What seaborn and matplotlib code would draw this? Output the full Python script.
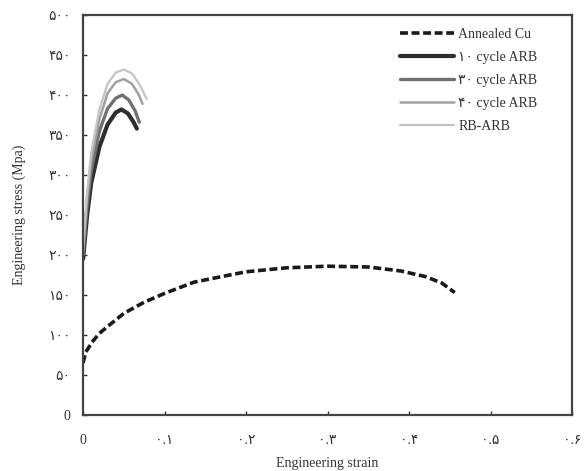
import numpy as np
import pandas as pd
import matplotlib
matplotlib.use("Agg")
import matplotlib.pyplot as plt
import seaborn as sns

# annealed copper
strain_cu = [0.0, 0.003, 0.011, 0.02, 0.033, 0.05, 0.075, 0.1, 0.136, 0.17, 0.2, 0.25,
             0.3, 0.35, 0.39, 0.42, 0.44, 0.456]
stress_cu = [65, 78, 91, 102, 113, 127, 141, 152, 166, 173, 179, 184,
             186, 185, 180, 173, 165, 153]

# ARB samples
strain_1 = [0.0, 0.005, 0.01, 0.02, 0.03, 0.04, 0.047, 0.055, 0.062, 0.066]
stress_1 = [195, 250, 290, 335, 363, 378, 382, 377, 366, 358]
strain_3 = [0.0, 0.005, 0.01, 0.02, 0.03, 0.04, 0.048, 0.056, 0.064, 0.069]
stress_3 = [200, 262, 305, 355, 383, 396, 400, 394, 380, 366]
strain_6 = [0.0, 0.005, 0.01, 0.02, 0.03, 0.04, 0.05, 0.06, 0.068, 0.073]
stress_6 = [205, 272, 318, 370, 402, 416, 420, 414, 401, 389]
strain_rb = [0.0, 0.005, 0.01, 0.02, 0.03, 0.04, 0.05, 0.06, 0.07, 0.078]
stress_rb = [210, 280, 328, 382, 414, 428, 432, 427, 412, 395]

labels = ["Annealed Cu", "۱۰ cycle ARB", "۳۰ cycle ARB", "۴۰ cycle ARB", "RB-ARB"]
x_ticks = [0, 0.1, 0.2, 0.3, 0.4, 0.5, 0.6]
x_ticklabels = ["0", "۰.۱", "۰.۲", "۰.۳", "۰.۴", "۰.۵", "۰.۶"]
y_ticks = [0, 50, 100, 150, 200, 250, 300, 350, 400, 450, 500]
y_ticklabels = ["0", "۵۰", "۱۰۰", "۱۵۰", "۲۰۰", "۲۵۰", "۳۰۰", "۳۵۰", "۴۰۰", "۴۵۰", "۵۰۰"]

sns.set_theme(style="white")
plt.rcParams["font.family"] = ["Liberation Serif", "DejaVu Sans"]

fig = plt.figure(figsize=(5.85, 4.71), dpi=100)
ax = fig.add_axes([0.142, 0.119, 0.836, 0.849])

series = [
    (strain_cu, stress_cu, "#1a1a1a", 2.6, (0, (2.2, 1.0))),
    (strain_1, stress_1, "#2e2e2e", 3.0, "-"),
    (strain_3, stress_3, "#707070", 2.4, "-"),
    (strain_6, stress_6, "#a0a0a0", 1.8, "-"),
    (strain_rb, stress_rb, "#c4c4c4", 1.6, "-"),
]
for (xs, ys, c, lw, ls), lab in zip(series, labels):
    d = pd.DataFrame({"strain": xs, "stress": ys})
    sns.lineplot(data=d, x="strain", y="stress", ax=ax, color=c, lw=lw,
                 linestyle=ls, label=lab, sort=False)

ax.set_xlim(0, 0.6)
ax.set_ylim(0, 500)
ax.set_xticks(x_ticks)
ax.set_xticklabels(x_ticklabels)
ax.set_yticks(y_ticks)
ax.set_yticklabels(y_ticklabels)
ax.tick_params(direction="in", length=3, width=1, colors="#333333", labelsize=10,
               bottom=True, left=True)
ax.tick_params(axis="x", pad=14)
ax.tick_params(axis="y", pad=9)
for s in ax.spines.values():
    s.set_color("#444444")
    s.set_linewidth(1.6)

ax.set_xlabel("Engineering strain", fontsize=10, color="#333333", labelpad=7)
ax.set_ylabel("Engineering stress (Mpa)", fontsize=10, color="#333333", labelpad=16)

leg = ax.legend(loc="upper left", bbox_to_anchor=(0.648, 0.968), frameon=False,
                fontsize=10, handlelength=3.9, handletextpad=0.3,
                labelspacing=0.72, borderpad=0, borderaxespad=0)
for t in leg.get_texts():
    t.set_color("#333333")

fig.savefig("out.png", dpi=100)
